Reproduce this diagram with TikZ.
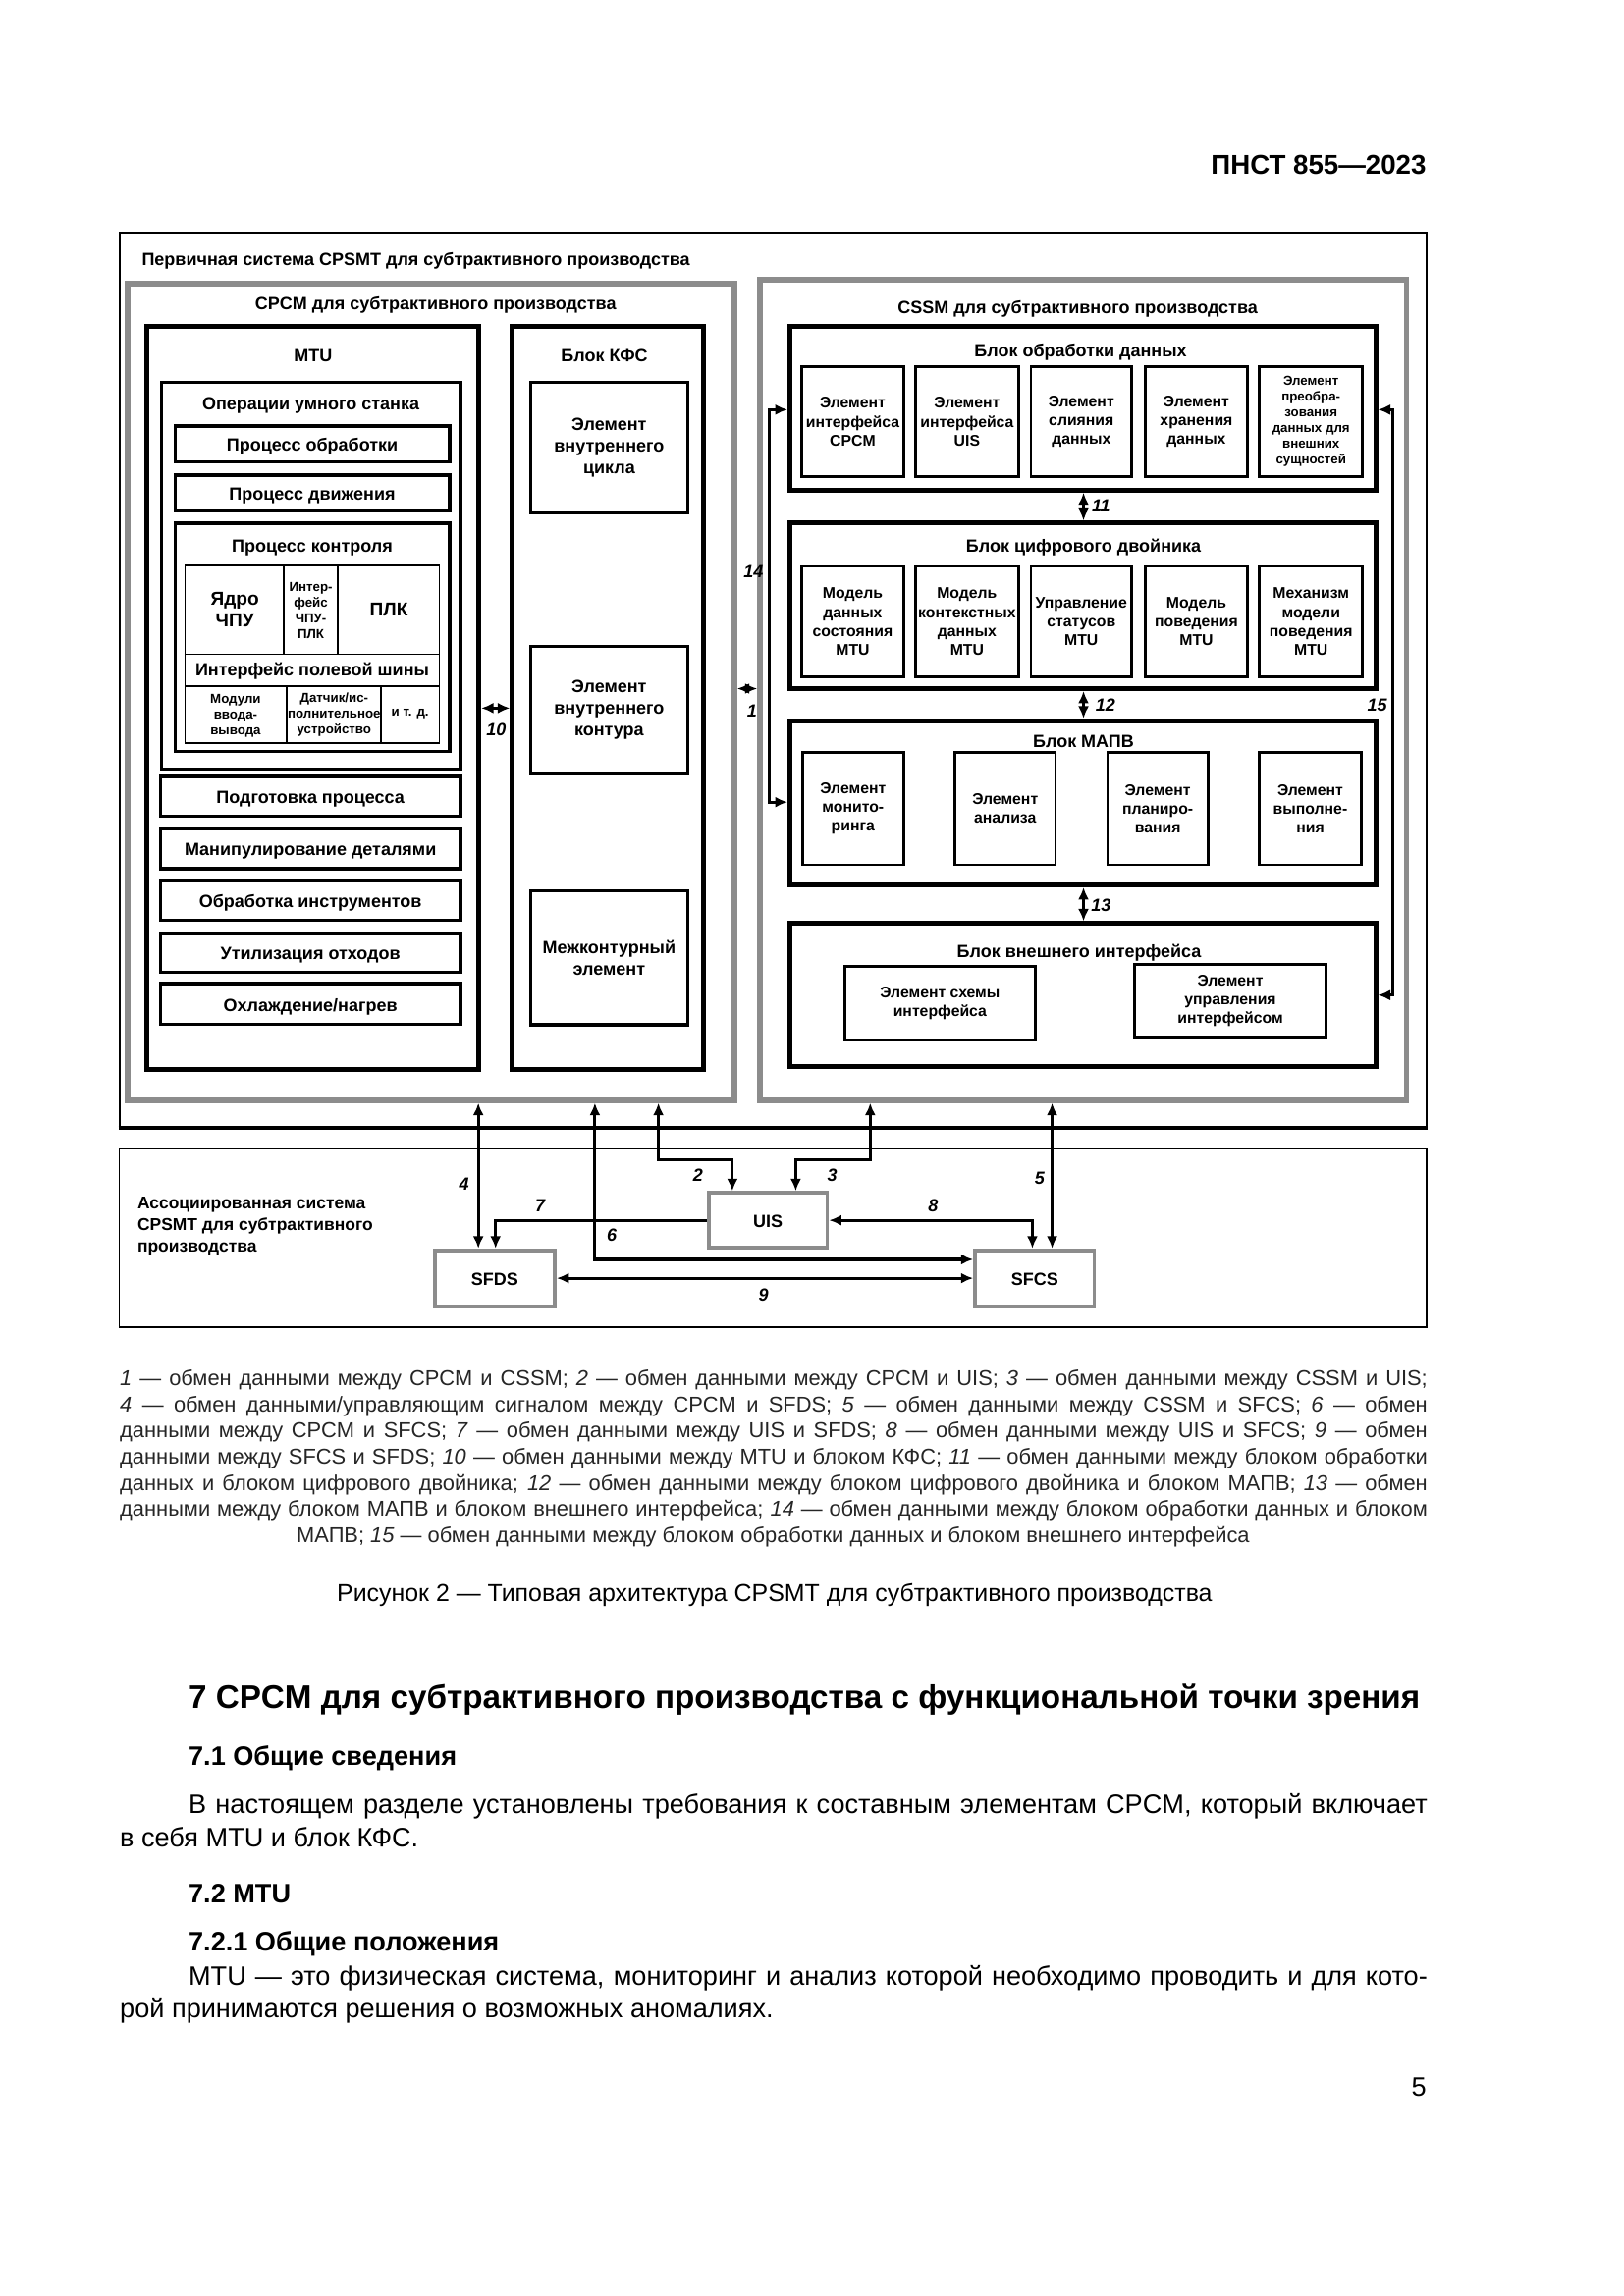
\documentclass[tikz,border=0pt]{standalone}
\usepackage{fontspec}
\setmainfont{Liberation Sans}
\usetikzlibrary{arrows.meta,fit}
\definecolor{boxgray}{HTML}{8C8C8C}
\newcommand\figlbl{\bfseries\fontsize{6.5}{7.9}\selectfont}
\newcommand\figel{\bfseries\fontsize{5.7}{6.9}\selectfont}
\newcommand\figsm{\bfseries\fontsize{4.8}{5.8}\selectfont}
\newcommand\figbig{\bfseries\fontsize{6.9}{7.9}\selectfont}
\newcommand\fignum{\bfseries\itshape\fontsize{6.5}{7.9}\selectfont}
\newcommand\figleg{\fontsize{7.9}{9.6}\selectfont}
\newcommand\figbody{\fontsize{9.8}{12}\selectfont}
\tikzset{
  outerbox/.style={draw, line width=0.7pt, inner sep=0pt},
  graybox/.style={draw=boxgray, line width=2pt, inner sep=0pt},
  blockbox/.style={draw, line width=1.8pt, inner sep=0pt},
  subbox/.style={draw, line width=1.2pt, inner sep=0pt},
  elembox/.style={draw, line width=1pt, inner sep=0pt},
  gridbox/.style={draw, line width=0.6pt, inner sep=0pt},
  cellnode/.style={inner sep=0pt, align=center, font=\figsm},
  titlenode/.style={inner sep=0pt, anchor=mid, font=\figlbl},
  subtext/.style={inner sep=0pt, anchor=mid, font=\figlbl},
  eltext/.style={inner sep=0pt, align=center, font=\figel},
  numnode/.style={inner sep=0pt, font=\fignum},
  sysbox/.style={draw=boxgray, line width=1.4pt, inner sep=0pt},
  oneway/.style={line width=1.1pt, -{Latex[length=4.5pt,width=4pt]}},
  twoway/.style={line width=1.1pt, {Latex[length=4.5pt,width=4pt]}-{Latex[length=4.5pt,width=4pt]}},
  legline/.style={inner sep=0pt, anchor=mid west, font=\figleg, text=black!85},
  bodyline/.style={inner sep=0pt, anchor=mid west, font=\figbody}
}
\begin{document}
\begin{tikzpicture}[x=0.018891cm, y=-0.018948cm, shift={(0.0335cm,-0.0195cm)}]
\fill[white] (-0.0335cm,0.0195cm) rectangle (20.9665cm,-29.6805cm);
\useasboundingbox (-0.0335cm,0.0195cm) rectangle (20.9665cm,-29.6805cm);

\node[inner sep=0pt, anchor=base east, font=\bfseries\fontsize{10}{12}\selectfont] (hdr) at (975,117.8) {ПНСТ 855—2023};

\node[outerbox, fit={(80,158) (975,768)}] (prim) {};
\draw[line width=1.5pt] (prim.south west) -- (prim.south east);
\node[titlenode, anchor=mid west] (primt) at (95,175) {Первичная система CPSMT для субтрактивного производства};

\node[graybox, fit={(85.5,192.5) (501,750)}] (cpcm) {};
\node[titlenode] (cpcmt) at (296.5,205.5) {CPCM для субтрактивного производства};

\node[blockbox, fit={(98.5,221.5) (326,729)}] (mtu) {};
\node[titlenode] (mtut) at (212.5,241) {MTU};
\node[subbox, fit={(109,260) (313.5,524)}] (ops) {};
\node[titlenode] (opst) at (211,274) {Операции умного станка};
\node[subbox, fit={(118,289.7) (306,314)}] (pobr) {};
\node[subtext] (pobrt) at (pobr.center) {Процесс обработки};
\node[subbox, fit={(118,323.2) (306,347.7)}] (pdvi) {};
\node[subtext] (pdvit) at (pdvi.center) {Процесс движения};
\node[subbox, fit={(118,356) (306,511.7)}] (pktr) {};
\node[titlenode] (pktrt) at (212,371) {Процесс контроля};
\node[gridbox, fit={(125,385) (299,506)}] (grid) {};
\coordinate (g1) at (0,445.5);
\coordinate (g2) at (0,467.5);
\coordinate (gx1) at (192.5,0);
\coordinate (gx2) at (229.6,0);
\coordinate (gx3) at (194.5,0);
\coordinate (gx4) at (259,0);
\draw[line width=0.6pt] (grid.west |- g1) -- (grid.east |- g1);
\draw[line width=0.6pt] (grid.west |- g2) -- (grid.east |- g2);
\draw[line width=0.6pt] (gx1 |- grid.north) -- (gx1 |- g1);
\draw[line width=0.6pt] (gx2 |- grid.north) -- (gx2 |- g1);
\draw[line width=0.6pt] (gx3 |- g2) -- (gx3 |- grid.south);
\draw[line width=0.6pt] (gx4 |- g2) -- (gx4 |- grid.south);
\node[cellnode, font=\figbig] (cnc) at (159,415) {Ядро\\ЧПУ};
\node[cellnode] (cncplc) at (211,415.5) {Интер-\\фейс\\ЧПУ-\\ПЛК};
\node[cellnode, font=\figbig] (plc) at (264.5,415) {ПЛК};
\node[cellnode, font=\figlbl] (fbus) at (212,457) {Интерфейс полевой шины};
\node[cellnode] (iomod) at (159.5,487.5) {Модули\\ввода-\\вывода};
\node[cellnode] (sens) at (227,486.5) {Датчик/ис-\\полнительное\\устройство};
\node[cellnode] (etc) at (279,486.5) {и т. д.};
\node[subbox, line width=1.3pt, fit={(108,529) (313.5,556)}] (prep) {};
\node[subtext] (prept) at (prep.center) {Подготовка процесса};
\node[subbox, line width=1.3pt, fit={(108,564.6) (313.5,592)}] (manip) {};
\node[subtext] (manipt) at (manip.center) {Манипулирование деталями};
\node[subbox, line width=1.3pt, fit={(108,600) (313.5,627)}] (tool) {};
\node[subtext] (toolt) at (tool.center) {Обработка инструментов};
\node[subbox, line width=1.3pt, fit={(108,636) (313.5,662.6)}] (waste) {};
\node[subtext] (wastet) at (waste.center) {Утилизация отходов};
\node[subbox, line width=1.3pt, fit={(108,670.5) (313.5,698)}] (cool) {};
\node[subtext] (coolt) at (cool.center) {Охлаждение/нагрев};

\node[blockbox, fit={(349,221.5) (480,729)}] (kfs) {};
\node[titlenode] (kfst) at (412,241) {Блок КФС};
\node[elembox, line width=1.2pt, fit={(361.5,260) (469,349)}] (cycl) {};
\node[eltext, font=\figlbl] (cyclt) at (cycl.center) {Элемент\\внутреннего\\цикла};
\node[elembox, line width=1.2pt, fit={(361.5,440) (469,527)}] (kont) {};
\node[eltext, font=\figlbl] (kontt) at (kont.center) {Элемент\\внутреннего\\контура};
\node[elembox, line width=1.2pt, fit={(361.5,607) (469,698.4)}] (mezh) {};
\node[eltext, font=\figlbl] (mezht) at (mezh.center) {Межконтурный\\элемент};

\node[graybox, fit={(518.5,190) (961,750)}] (cssm) {};
\node[titlenode] (cssmt) at (736,208) {CSSM для субтрактивного производства};

\node[blockbox, fit={(539,222) (940,333.5)}] (proc) {};
\node[titlenode] (proct) at (738,237.5) {Блок обработки данных};
\node[elembox, fit={(547,249.3) (617,324.3)}] (eicp) {};
\node[eltext] (eicpt) at (eicp.center) {Элемент\\интерфейса\\CPCM};
\node[elembox, fit={(625,249.3) (695.5,324.3)}] (eiuis) {};
\node[eltext] (eiuist) at (eiuis.center) {Элемент\\интерфейса\\UIS};
\node[elembox, fit={(704,249.3) (773,324.3)}] (efus) {};
\node[eltext] (efust) at (efus.center) {Элемент\\слияния\\данных};
\node[elembox, fit={(782.5,249.3) (852,324.3)}] (estor) {};
\node[eltext] (estort) at (estor.center) {Элемент\\хранения\\данных};
\node[elembox, fit={(860.5,249.3) (931,324.3)}] (econv) {};
\node[eltext, font=\figsm] (econvt) at (econv.center) {Элемент\\преобра-\\зования\\данных для\\внешних\\сущностей};

\node[blockbox, fit={(539,356) (940,469)}] (twin) {};
\node[titlenode] (twint) at (740,371) {Блок цифрового двойника};
\node[elembox, fit={(547,385.5) (617,461)}] (msd) {};
\node[eltext] (msdt) at (msd.center) {Модель\\данных\\состояния\\MTU};
\node[elembox, fit={(625,385.5) (695.5,461)}] (mcd) {};
\node[eltext] (mcdt) at (mcd.center) {Модель\\контекстных\\данных\\MTU};
\node[elembox, fit={(704,385.5) (773,461)}] (mst) {};
\node[eltext] (mstt) at (mst.center) {Управление\\статусов\\MTU};
\node[elembox, fit={(782.5,385.5) (852,461)}] (mbh) {};
\node[eltext] (mbht) at (mbh.center) {Модель\\поведения\\MTU};
\node[elembox, fit={(860.5,385.5) (931,461)}] (mmech) {};
\node[eltext] (mmecht) at (mmech.center) {Механизм\\модели\\поведения\\MTU};

\node[blockbox, fit={(539,491) (940,603)}] (mapv) {};
\node[titlenode] (mapvt) at (740,504) {Блок МАПВ};
\node[elembox, fit={(547.7,512.7) (616.8,589.3)}] (emon) {};
\node[eltext] (emont) at (emon.center) {Элемент\\монито-\\ринга};
\node[elembox, fit={(652,512.7) (720.8,589.3)}] (eana) {};
\node[eltext] (eanat) at (eana.center) {Элемент\\анализа};
\node[elembox, fit={(756.4,512.7) (825.2,589.3)}] (epla) {};
\node[eltext] (eplat) at (epla.center) {Элемент\\планиро-\\вания};
\node[elembox, fit={(860.5,512.7) (930,589.3)}] (eexe) {};
\node[eltext] (eexet) at (eexe.center) {Элемент\\выполне-\\ния};

\node[blockbox, fit={(539,629.4) (940,726.7)}] (ext) {};
\node[titlenode] (extt) at (737,647.4) {Блок внешнего интерфейса};
\node[elembox, fit={(576.5,658.6) (707,708.6)}] (escm) {};
\node[eltext] (escmt) at (escm.center) {Элемент схемы\\интерфейса};
\node[elembox, fit={(775,657.3) (906,707)}] (ectl) {};
\node[eltext] (ectlt) at (ectl.center) {Элемент\\управления\\интерфейсом};

\coordinate (k14a) at (525,278.6);
\coordinate (k14b) at (525,546.5);
\coordinate (k15a) at (952,278.6);
\coordinate (k15b) at (952,678.2);
\coordinate (k1) at (510,469);
\coordinate (k10) at (337,482.3);
\coordinate (kmid) at (740,0);
\draw[twoway] (proc.west |- k14a) -- (k14a) -- (k14b) -- (mapv.west |- k14b);
\draw[twoway] (proc.east |- k15a) -- (k15a) -- (k15b) -- (ext.east |- k15b);
\draw[twoway] (cpcm.east |- k1) -- (cssm.west |- k1);
\draw[twoway] (mtu.east |- k10) -- (kfs.west |- k10);
\draw[twoway] (proc.south -| kmid) -- (twin.north -| kmid);
\draw[twoway] (twin.south -| kmid) -- (mapv.north -| kmid);
\draw[twoway] (mapv.south -| kmid) -- (ext.north -| kmid);
\node[numnode] (n14) at (514,389) {14};
\node[numnode] (n1) at (513,484) {1};
\node[numnode] (n10) at (338,497) {10};
\node[numnode] (n11) at (752,344) {11};
\node[numnode] (n12) at (755,480) {12};
\node[numnode] (n13) at (752,617) {13};
\node[numnode] (n15) at (941,480) {15};

\node[outerbox, line width=0.6pt, fit={(80,783) (975,905)}] (assoc) {};
\node[inner sep=0pt, anchor=west, align=left, font=\bfseries\fontsize{6.3}{8}\selectfont] (assoct) at (92,836) {Ассоциированная система\\CPSMT для субтрактивного\\производства};
\node[sysbox, fit={(483.4,813.2) (564.5,850.6)}] (uis) {};
\node[subtext] (uist) at (uis.center) {UIS};
\node[sysbox, fit={(295.8,852.4) (378,890.4)}] (sfds) {};
\node[subtext] (sfdst) at (sfds.center) {SFDS};
\node[sysbox, fit={(665.8,852.4) (747.4,890.4)}] (sfcs) {};
\node[subtext] (sfcst) at (sfcs.center) {SFCS};

\coordinate (k4) at (325.7,800);
\coordinate (k6) at (405.5,858.6);
\coordinate (k2a) at (449,790.8);
\coordinate (k2b) at (499.6,790.8);
\coordinate (k3a) at (594,790.8);
\coordinate (k3b) at (543,790.8);
\coordinate (k5) at (718.5,800);
\coordinate (k7) at (337.5,832);
\coordinate (k8) at (705,832);
\coordinate (k9) at (500,871.4);
\draw[twoway] (cpcm.south -| k4) -- (sfds.north -| k4);
\draw[twoway] (cpcm.south -| k6) -- (k6) -- (sfcs.west |- k6);
\draw[twoway] (cpcm.south -| k2a) -- (k2a) -- (k2b) -- (uis.north -| k2b);
\draw[twoway] (cssm.south -| k3a) -- (k3a) -- (k3b) -- (uis.north -| k3b);
\draw[twoway] (cssm.south -| k5) -- (sfcs.north -| k5);
\draw[oneway] (uis.west) -- (uis.west -| k7) -- (sfds.north -| k7);
\draw[twoway] (uis.east) -- (uis.east -| k8) -- (sfcs.north -| k8);
\draw[twoway] (sfds.east |- k9) -- (sfcs.west |- k9);
\node[numnode] (n2) at (476,801) {2};
\node[numnode] (n3) at (568,801) {3};
\node[numnode] (n4) at (316,807) {4};
\node[numnode] (n5) at (710,803) {5};
\node[numnode] (n6) at (417,842) {6};
\node[numnode] (n7) at (368,822) {7};
\node[numnode] (n8) at (637,822) {8};
\node[numnode] (n9) at (521,883) {9};

\node[legline] (leg1) at (80,940) {\makebox[16.908cm][s]{\textit{1} — обмен данными между CPCM и CSSM; \textit{2} — обмен данными между CPCM и UIS; \textit{3} — обмен данными между CSSM и UIS;}};
\node[legline] (leg2) at (80,957.8) {\makebox[16.908cm][s]{\textit{4} — обмен данными/управляющим сигналом между CPCM и SFDS; \textit{5} — обмен данными между CSSM и SFCS; \textit{6} — обмен}};
\node[legline] (leg3) at (80,975.6) {\makebox[16.908cm][s]{данными между CPCM и SFCS; \textit{7} — обмен данными между UIS и SFDS; \textit{8} — обмен данными между UIS и SFCS; \textit{9} — обмен}};
\node[legline] (leg4) at (80,993.4) {\makebox[16.908cm][s]{данными между SFCS и SFDS; \textit{10} — обмен данными между MTU и блоком КФС; \textit{11} — обмен данными между блоком обработки}};
\node[legline] (leg5) at (80,1011.2) {\makebox[16.908cm][s]{данных и блоком цифрового двойника; \textit{12} — обмен данными между блоком цифрового двойника и блоком МАПВ; \textit{13} — обмен}};
\node[legline] (leg6) at (80,1029) {\makebox[16.908cm][s]{данными между блоком МАПВ и блоком внешнего интерфейса; \textit{14} — обмен данными между блоком обработки данных и блоком}};
\node[legline, anchor=mid] (leg7) at (527.5,1046.8) {МАПВ; \textit{15} — обмен данными между блоком обработки данных и блоком внешнего интерфейса};

\node[inner sep=0pt, anchor=mid, font=\fontsize{9}{11}\selectfont] (capt) at (528.5,1087) {Рисунок 2 — Типовая архитектура CPSMT для субтрактивного производства};

\node[bodyline, font=\bfseries\fontsize{12}{14}\selectfont] (sec7) at (127,1160) {7 CPCM для субтрактивного производства с функциональной точки зрения};
\node[bodyline, font=\bfseries\figbody] (sec71) at (127,1199) {7.1 Общие сведения};
\node[bodyline] (par1a) at (127,1232) {\makebox[16.02cm][s]{В настоящем разделе установлены требования к составным элементам CPCM, который включает}};
\node[bodyline] (par1b) at (80,1255) {в себя MTU и блок КФС.};
\node[bodyline, font=\bfseries\figbody] (sec72) at (127,1293) {7.2 MTU};
\node[bodyline, font=\bfseries\figbody] (sec721) at (127,1326) {7.2.1 Общие положения};
\node[bodyline] (par2a) at (127,1349) {\makebox[16.02cm][s]{MTU — это физическая система, мониторинг и анализ которой необходимо проводить и для кото-}};
\node[bodyline] (par2b) at (80,1371) {рой принимаются решения о возможных аномалиях.};
\node[inner sep=0pt, anchor=base east, font=\figbody] (pgno) at (975,1430) {5};
\end{tikzpicture}
\end{document}
